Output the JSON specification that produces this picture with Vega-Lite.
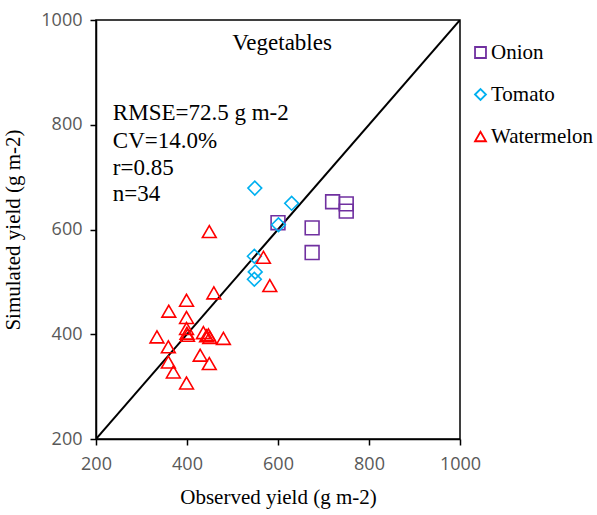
{
  "$schema": "https://vega.github.io/schema/vega-lite/v6.json",
  "autosize": "none",
  "width": 364,
  "height": 419,
  "padding": {"left": 96, "top": 20, "right": 137, "bottom": 76},
  "background": "white",
  "config": {
    "view": {"stroke": "black", "strokeWidth": 1.5},
    "axis": {
      "grid": false,
      "labelFlush": false,
      "labelOverlap": false,
      "domainColor": "black",
      "domainWidth": 1.5,
      "tickColor": "black",
      "tickWidth": 1.5,
      "tickSize": 6,
      "labelFont": "Open Sans",
      "labelFontSize": 18,
      "labelColor": "#595959",
      "titleFont": "Liberation Serif",
      "titleFontSize": 21,
      "titleFontWeight": "normal",
      "titleColor": "black"
    }
  },
  "datasets": {
    "obs": [
      {"crop": "Onion", "observed": 600, "simulated": 613},
      {"crop": "Onion", "observed": 720, "simulated": 653},
      {"crop": "Onion", "observed": 750, "simulated": 649},
      {"crop": "Onion", "observed": 750, "simulated": 635},
      {"crop": "Onion", "observed": 675, "simulated": 603},
      {"crop": "Onion", "observed": 675, "simulated": 556},
      {"crop": "Tomato", "observed": 549, "simulated": 679},
      {"crop": "Tomato", "observed": 630, "simulated": 650},
      {"crop": "Tomato", "observed": 601, "simulated": 609},
      {"crop": "Tomato", "observed": 548, "simulated": 549},
      {"crop": "Tomato", "observed": 550, "simulated": 519},
      {"crop": "Tomato", "observed": 548, "simulated": 505},
      {"crop": "Watermelon", "observed": 449, "simulated": 596},
      {"crop": "Watermelon", "observed": 568, "simulated": 547},
      {"crop": "Watermelon", "observed": 582, "simulated": 493},
      {"crop": "Watermelon", "observed": 459, "simulated": 479},
      {"crop": "Watermelon", "observed": 399, "simulated": 465},
      {"crop": "Watermelon", "observed": 360, "simulated": 444},
      {"crop": "Watermelon", "observed": 399, "simulated": 432},
      {"crop": "Watermelon", "observed": 399, "simulated": 411},
      {"crop": "Watermelon", "observed": 400, "simulated": 402},
      {"crop": "Watermelon", "observed": 401, "simulated": 398},
      {"crop": "Watermelon", "observed": 334, "simulated": 395},
      {"crop": "Watermelon", "observed": 436, "simulated": 403},
      {"crop": "Watermelon", "observed": 443, "simulated": 397},
      {"crop": "Watermelon", "observed": 447, "simulated": 399},
      {"crop": "Watermelon", "observed": 450, "simulated": 394},
      {"crop": "Watermelon", "observed": 480, "simulated": 392},
      {"crop": "Watermelon", "observed": 359, "simulated": 376},
      {"crop": "Watermelon", "observed": 429, "simulated": 360},
      {"crop": "Watermelon", "observed": 359, "simulated": 347},
      {"crop": "Watermelon", "observed": 449, "simulated": 344},
      {"crop": "Watermelon", "observed": 370, "simulated": 328},
      {"crop": "Watermelon", "observed": 399, "simulated": 307}
    ],
    "oneToOne": [
      {"observed": 200, "simulated": 200},
      {"observed": 1000, "simulated": 1000}
    ],
    "stats": [
      {"label": "RMSE=72.5 g m-2", "observed": 237, "simulated": 822},
      {"label": "CV=14.0%", "observed": 237, "simulated": 769},
      {"label": "r=0.85", "observed": 237, "simulated": 718},
      {"label": "n=34", "observed": 237, "simulated": 667}
    ],
    "heading": [
      {"label": "Vegetables", "observed": 609, "simulated": 956}
    ]
  },
  "encoding": {
    "x": {
      "field": "observed",
      "type": "quantitative",
      "scale": {"domain": [200, 1000], "nice": false, "zero": false},
      "axis": {"values": [200, 400, 600, 800, 1000], "format": "d", "title": "Observed yield (g m-2)", "titlePadding": 13, "labelPadding": 10}
    },
    "y": {
      "field": "simulated",
      "type": "quantitative",
      "scale": {"domain": [200, 1000], "nice": false, "zero": false},
      "axis": {"values": [200, 400, 600, 800, 1000], "format": "d", "title": "Simulated yield (g m-2)", "titlePadding": 17, "labelPadding": 8}
    }
  },
  "layer": [
    {
      "data": {"name": "oneToOne"},
      "mark": {"type": "line", "color": "black", "strokeWidth": 2, "clip": true}
    },
    {
      "data": {"name": "obs"},
      "mark": {"type": "point", "filled": false, "strokeWidth": 1.6, "size": 190, "opacity": 1},
      "encoding": {
        "color": {
          "field": "crop",
          "type": "nominal",
          "scale": {"domain": ["Onion", "Tomato", "Watermelon"], "range": ["#7030A0", "#00B0F0", "#FF0000"]},
          "legend": {
            "title": null,
            "orient": "none",
            "legendX": 374,
            "legendY": 22,
            "labelFont": "Liberation Serif",
            "labelFontSize": 21,
            "labelColor": "black",
            "symbolSize": 120,
            "symbolStrokeWidth": 1.8,
            "rowPadding": 20,
            "labelOffset": 0
          }
        },
        "shape": {
          "field": "crop",
          "type": "nominal",
          "scale": {"domain": ["Onion", "Tomato", "Watermelon"], "range": ["square", "diamond", "triangle-up"]}
        }
      }
    },
    {
      "data": {"name": "stats"},
      "mark": {"type": "text", "align": "left", "baseline": "middle", "font": "Liberation Serif", "fontSize": 23, "color": "black"},
      "encoding": {"text": {"field": "label"}}
    },
    {
      "data": {"name": "heading"},
      "mark": {"type": "text", "align": "center", "baseline": "middle", "font": "Liberation Serif", "fontSize": 23, "color": "black"},
      "encoding": {"text": {"field": "label"}}
    }
  ]
}
